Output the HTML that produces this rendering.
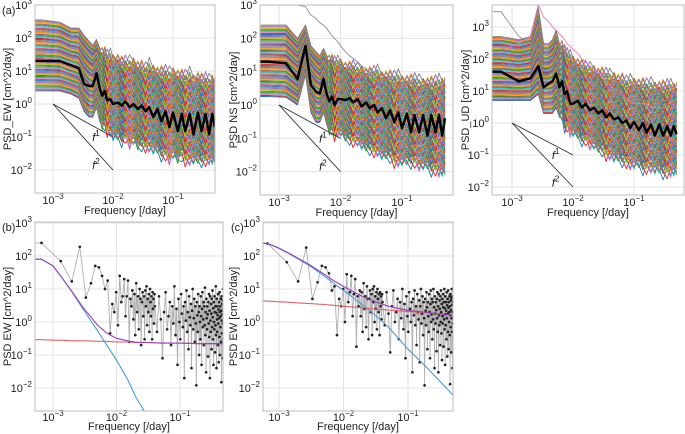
<!DOCTYPE html>
<html><head><meta charset="utf-8">
<style>
html,body{margin:0;padding:0;background:#fff;overflow:hidden;width:685px;height:434px;}
svg{display:block;font-family:"Liberation Sans","DejaVu Sans",sans-serif;overflow:hidden;}
</style></head>
<body>
<svg id="fig" width="685" height="434" viewBox="0 0 685 434" xmlns="http://www.w3.org/2000/svg"></svg>
<script>
// ---------- data ----------
const freqs = [6.6e-4,1.3e-3,2.0e-3,2.7e-3,3.3e-3,4.0e-3,4.6e-3,5.3e-3,6.0e-3,6.6e-3,7.3e-3,8.0e-3,9.0e-3,1.0e-2,1.2e-2,1.4e-2,1.6e-2,1.9e-2,2.2e-2,2.6e-2,3.0e-2,3.5e-2,4.0e-2,4.7e-2,5.5e-2,6.4e-2,7.5e-2,8.7e-2,0.10,0.12,0.14,0.16,0.19,0.22,0.26,0.30,0.35,0.40,0.45,0.50];
const ewMean = [20,20,15,12,4,3.5,3.5,8.5,3,1.8,2.5,1.3,1.4,1.0,1.1,0.9,1.2,0.8,1.0,0.7,0.9,0.6,0.8,0.4,0.7,0.3,0.6,0.2,0.55,0.15,0.5,0.15,0.5,0.12,0.55,0.15,0.5,0.12,0.5,0.2];
const ewHi = [350,300,200,200,120,80,60,90,50,40,40,30,30,25,25,20,20,18,20,15,15,12,15,12,10,10,10,8,10,8,8,7,8,6,7,6,6,5,6,5];
const ewLo = [2.5,2.5,2,1.5,0.6,0.4,0.4,0.8,0.3,0.2,0.25,0.15,0.15,0.1,0.1,0.08,0.1,0.06,0.08,0.05,0.06,0.05,0.05,0.04,0.04,0.03,0.03,0.02,0.03,0.02,0.03,0.02,0.02,0.02,0.02,0.02,0.02,0.02,0.02,0.02];
const nsMean = [20,18,6,60,4,2.5,2.2,6,2,1.3,1.8,1.0,1.5,1.5,1.4,1.6,1.2,1.5,0.9,1.2,0.8,1.0,0.6,0.8,0.4,0.7,0.3,0.6,0.2,0.55,0.15,0.5,0.15,0.5,0.12,0.5,0.15,0.5,0.12,0.4];
const nsHi = [250,250,100,250,60,40,30,50,30,25,25,20,20,20,15,15,15,12,12,10,10,10,10,8,8,8,7,7,6,6,6,6,5,5,5,5,5,5,5,5];
const nsLo = [1.8,1.7,1,8,0.6,0.3,0.3,0.6,0.25,0.15,0.2,0.12,0.15,0.15,0.1,0.1,0.08,0.08,0.06,0.05,0.05,0.04,0.04,0.03,0.03,0.03,0.02,0.02,0.02,0.02,0.02,0.02,0.015,0.015,0.015,0.012,0.012,0.01,0.01,0.01];
const nsOutlier = [3000,1500,1000,900,500,400,300,250,200,150,120,100,80,60,40,30,25,20,15,12,10,8,6,5,4,4,3,3,3,2,2,2,2,2,2,2,2,2,2,2];
const udMean = [40,20,25,60,13,17,20,35,13,20,8,10,4,4,5,3,4,2.5,3,2,2.5,1.5,2,1.3,1.5,1,1.2,0.7,1.1,0.6,1.0,0.5,0.9,0.4,0.9,0.4,0.8,0.4,0.8,0.45];
const udHi = [500,400,500,4000,300,300,400,800,300,300,200,150,120,100,80,70,60,50,50,40,40,35,30,30,25,25,20,20,20,18,18,16,16,15,15,15,15,14,14,14];
const udLo = [5,5,5,8,2,2,2,3,1.5,1.5,0.8,0.8,0.5,0.5,0.4,0.3,0.3,0.2,0.2,0.15,0.15,0.1,0.1,0.08,0.08,0.07,0.06,0.05,0.05,0.05,0.04,0.04,0.04,0.035,0.035,0.03,0.03,0.03,0.03,0.03];
const udOutlier = [3000,500,300,200,150,120,100,90,80,70,60,50,45,40,35,30,25,20,18,15,12,10,10,8,8,7,6,6,5,5,5,5,5,5,5,5,5,5,5,5];
const udPink = [200,300,500,5000,2000,1500,1000,800,600,500,400,300,250,200,150,100,80,60,50,40,30,20,15,12,10,8,6,5,4,4,4,4,3,3,3,3,3,3,3,3];

const modelFreqs = [5e-4,6.6e-4,1e-3,1.3e-3,2e-3,3e-3,5e-3,7e-3,1e-2,1.5e-2,2e-2,3e-2,5e-2,0.1,0.2,0.5];
const bBlue = [80,80,50,26,8,2.4,0.55,0.2,0.07,0.018,0.0055,0.0015,0.0003,0.00001,0.000001,0.0000001];
const bRed = [0.29,0.29,0.28,0.28,0.27,0.27,0.26,0.26,0.25,0.25,0.24,0.24,0.23,0.23,0.22,0.22];
const bPurple = [80,80,50,26,8.3,2.7,0.81,0.46,0.32,0.27,0.245,0.24,0.23,0.23,0.22,0.22];
const cBlue = [240,240,170,130,80,50,25,15,9,5,3.2,1.7,0.7,0.15,0.04,0.006];
const cRed = [4.4,4.3,4.1,4.0,3.8,3.6,3.4,3.2,3.0,2.8,2.7,2.5,2.3,2.1,1.9,1.6];
const cPurple = [244,244,174,134,84,54,28,18,12,7.8,5.9,4.2,3.0,2.25,1.94,1.6];

const bLow = [250,70,17,190,5.5,15,50,45,25,10,18,0.45,3.5,2,8,0.8,25,4,6,20,1.5,6,18,0.25,5,3,9,1.2,7,0.4,15,2,6,0.6,10,5,0.2,4,8,1.5,6,0.3,9,3,12,0.8,5,2,7,0.5,10,4,1.5,6,0.3,8,2.5,5,0.9,7];
const bTail = [3,0.5,6,1.2,0.08,2,8,0.6,1.5,4,0.2,3,0.9,12,0.4,2.5,0.05,5,1,0.3,7,1.8,0.7,3,0.02,4,1.1,9,0.5,2,0.15,6,1.4,0.8,3.5,0.04,2.2,10,0.6,1.3,5,0.25,3,0.9,0.012,4,1.6,0.5,7,2,0.1,3,1,0.3,6,1.5,0.05,2.5,8,0.7,1.2,4,0.2,3,0.8,11,0.4,2,0.03,5,1.3,0.6,3,1.7,0.09,4,0.9,7,0.35,2.2,0.02,6,1.1,0.5,3.5,1.8,0.15,5,0.7,9,1.4,0.3,2.6,0.05,4,1,0.6,6,2,0.12,3,0.8,12,0.4,1.9,0.04,5,1.2,0.5,3,1.6,0.2,7,0.9,2.4,0.06,4,1.3,0.35,8,2,0.1,3,0.7,1.5,5,0.25,2.2,0.015,6,1.1,0.45,3.5,1.7,0.08,4.5,0.9,10,0.3,2.5,0.03,5,1.4,0.6,3];
const cLow = [240,65,17,180,5,16,50,45,30,9,12,0.4,5,3,10,1,28,4,8,25,1.5,7,20,0.18,6,3,9,1.5,8,0.5,15,2.5,6,0.7,12,5,0.3,5,9,2,7,0.4,10,4,12,1,6,2.5,8,0.6,10,5,2,7,0.4,8,3,6,1.2,7];
const cTail = [4,0.8,8,1.8,0.12,3,9,1,2,5,0.3,4,1.3,10,0.6,3.5,0.08,6,1.5,0.5,8,2.5,1,4,0.03,5,1.6,9,0.8,3,0.2,7,2,1.2,4.5,0.06,3,10,0.9,1.8,6,0.4,4,1.3,0.012,5,2.2,0.8,8,2.8,0.15,4,1.5,0.5,7,2,0.08,3.5,9,1,1.7,5,0.3,4,1.2,10,0.6,2.8,0.04,6,1.8,0.9,4,2.3,0.13,5,1.3,8,0.5,3,0.03,7,1.6,0.8,4.5,2.5,0.2,6,1,9,2,0.45,3.5,0.07,5,1.5,0.9,7,2.8,0.18,4,1.2,10,0.6,2.6,0.05,6,1.7,0.8,4,2.2,0.3,8,1.3,3.2,0.09,5,1.8,0.5,9,2.7,0.15,4,1,2,6,0.4,3,0.013,7,1.6,0.7,4.5,2.3,0.12,5.5,1.3,10,0.5,3.3,0.04,6,2,0.9,4];

const xTicks = [-3,-2,-1];
const yTicks = [-2,-1,0,1,2,3];
const tab10 = ['#1f77b4','#ff7f0e','#2ca02c','#d62728','#9467bd','#8c564b','#e377c2','#7f7f7f','#bcbd22','#17becf'];

// ---------- helpers ----------
const NS = 'http://www.w3.org/2000/svg';
const svg = document.getElementById('fig');
function mk(tag, attrs, parent){
  const e = document.createElementNS(NS, tag);
  for (const k in attrs) e.setAttribute(k, attrs[k]);
  (parent||svg).appendChild(e);
  return e;
}
function clampY(y){ return Math.min(433, Math.max(1, y)); }
function makeAxes(p){
  p.X = f => p.x10 + p.xd*(Math.log10(f)+3);
  p.Y = v => p.y0 - p.yd*Math.log10(v);
  const g = mk('g', {});
  
  
  const cp = mk('clipPath', {id:'clip-'+p.name}, g);
  mk('rect', {x:p.l, y:p.t, width:p.r-p.l, height:p.b-p.t}, cp);
  xTicks.forEach(t=>{
    const x = p.x10 + p.xd*(t+3);
    const ln = mk('line', {x1:x, x2:x, y1:p.t, y2:p.b, stroke:'#e3e3e3', 'stroke-width':1}, g);
    
    
    const tx = mk('text', {x:x, y:p.b+p.tk, 'font-size':11, 'text-anchor':'middle', fill:'#222'}, g);
    
    
    tx.innerHTML = '10<tspan dy="-5" font-size="8">\u2212' + (-t) + '</tspan>';
  });
  yTicks.forEach(t=>{
    const y = p.y0 - p.yd*t;
    if (y < p.t-1 || y > p.b+1) return;
    const ln = mk('line', {x1:p.l, x2:p.r, y1:y, y2:y, stroke:'#e3e3e3', 'stroke-width':1}, g);
    
    
    const tx = mk('text', {x:p.l-3, y:y+4, 'font-size':11, 'text-anchor':'end', fill:'#222'}, g);
    
    
    const ex = t<0 ? '\u2212'+(-t) : ''+t;
    tx.innerHTML = '10<tspan dy="-5" font-size="8">' + ex + '</tspan>';
  });
  const data = mk('g', {'clip-path':'url(#clip-'+p.name+')'}, g);
  
  
  p.g = g; p.data = data;
  const xl = mk('text', {x:(p.l+p.r)/2, y:p.b+p.xlo, 'font-size':11, 'text-anchor':'middle', fill:'#222'}, g);
  
  
  xl.textContent = 'Frequency [/day]';
  const yl = mk('text', {x:0, y:0, 'font-size':11, 'text-anchor':'middle', fill:'#222', transform:'translate('+p.ylx+','+((p.t+p.b)/2)+') rotate(-90)'}, g);
  
  
  yl.textContent = p.ylabel;
  if (p.tag){
    const tg = mk('text', {x:p.tagx, y:p.t+9, 'font-size':11, fill:'#222'}, g);
    
    
    tg.textContent = p.tag;
  }
  return p;
}
function frame(p){
  const fr = mk('rect', {x:p.l, y:p.t, width:p.r-p.l, height:p.b-p.t, fill:'none', stroke:'#bdbdbd', 'stroke-width':1}, p.g);
  
  
}
function pathFrom(p, fs, vs, leftExtend){
  let d = leftExtend ? 'M' + (p.l-2) + ',' + clampY(p.Y(vs[0])).toFixed(1) + ' L' : 'M';
  d += fs.map((f,i)=>p.X(f).toFixed(1)+','+clampY(p.Y(Math.max(vs[i],1e-9))).toFixed(1)).join(' L');
  return d;
}
function spaghetti(p, mean, hi, lo, extras){
  const n = 70;
  for (let j=0;j<n;j++){
    const t = j/(n-1);
    const vals = hi.map((h,i)=>{
      const lh = Math.log10(h), ll = Math.log10(lo[i]);
      const k = (j*7 + i*13) % 5 - 2;
      const wig = (i>8) ? k*0.12*(lh-ll)/2.5 : 0;
      return Math.pow(10, ll + t*(lh-ll) + wig);
    });
    const pth = mk('path', {d:pathFrom(p, freqs, vals, true), fill:'none', stroke:tab10[(j*3)%10], 'stroke-width':0.9, 'stroke-linejoin':'round'}, p.data);
    
    
  }
  (extras||[]).forEach(ex=>{
    const pth = mk('path', {d:pathFrom(p, freqs, ex.v, true), fill:'none', stroke:ex.c, 'stroke-width':0.9}, p.data);
    
    
  });
  const m = mk('path', {d:pathFrom(p, freqs, mean, true), fill:'none', stroke:'#000', 'stroke-width':2.4, 'stroke-linejoin':'round'}, p.data);
  
  
  const x1 = p.X(1e-3), y1 = p.Y(1), x2 = p.X(1e-2);
  const s1 = mk('line', {x1:x1, y1:y1, x2:x2, y2:p.Y(0.1), stroke:'#333', 'stroke-width':0.9}, p.g);
  
  
  const s2 = mk('line', {x1:x1, y1:y1, x2:x2, y2:p.Y(0.01), stroke:'#333', 'stroke-width':0.9}, p.g);
  
  
  const t1 = mk('text', {x:p.X(4.5e-3), y:p.Y(0.1)+4, 'font-size':11, 'font-style':'italic', fill:'#111'}, p.g);
  
  
  t1.innerHTML = 'f<tspan dy="-5" font-size="8" font-style="normal">1</tspan>';
  const t2 = mk('text', {x:p.X(4.5e-3), y:p.Y(0.014)+4, 'font-size':11, 'font-style':'italic', fill:'#111'}, p.g);
  
  
  t2.innerHTML = 'f<tspan dy="-5" font-size="8" font-style="normal">2</tspan>';
}
function fitPanel(p, low, tail, blue, red, purple){
  const fs = [], vs = [];
  low.forEach((v,i)=>{ fs.push((i+1)*6.6e-4); vs.push(v); });
  const f0 = (low.length+1)*6.6e-4;
  tail.forEach((v,i)=>{ fs.push(f0 + (0.5-f0)*i/(tail.length-1)); vs.push(v); });
  const gl = mk('path', {d:pathFrom(p, fs, vs, true), fill:'none', stroke:'#b0b0b0', 'stroke-width':0.9}, p.data);
  
  
  fs.forEach((f,i)=>{
    const c = mk('circle', {cx:p.X(f).toFixed(1), cy:clampY(p.Y(vs[i])).toFixed(1), r:1.35, fill:'#222'}, p.data);
    
    
  });
  [[blue,'#4a9bd4','power-law-model'],[red,'#e0606a','white-noise-model'],[purple,'#9b3fb5','combined-model']].forEach(([arr,col,nm])=>{
    const pth = mk('path', {d:pathFrom(p, modelFreqs, arr, false), fill:'none', stroke:col, 'stroke-width':1.1}, p.data);
    
    
  });
}

// ---------- panels ----------
const pA = makeAxes({name:'panel-a-ew', l:35, r:215, t:5, b:193, x10:53, xd:60, y0:104, yd:33, tk:11, xlo:21, ylabel:'PSD_EW [cm^2/day]', ylx:11, tag:'(a)', tagx:2});
spaghetti(pA, ewMean, ewHi, ewLo, []);
frame(pA);
const pN = makeAxes({name:'panel-a-ns', l:260, r:453, t:5, b:195, x10:279, xd:61.5, y0:105, yd:33.3, tk:11, xlo:21, ylabel:'PSD NS [cm^2/day]', ylx:237});
spaghetti(pN, nsMean, nsHi, nsLo, [{v:nsOutlier, c:'#8c8c8c'}]);
frame(pN);
const pU = makeAxes({name:'panel-a-ud', l:492, r:684, t:5, b:195, x10:512, xd:61, y0:123, yd:32, tk:11, xlo:21, ylabel:'PSD_UD [cm^2/day]', ylx:469});
spaghetti(pU, udMean, udHi, udLo, [{v:udOutlier, c:'#8c8c8c'},{v:udPink, c:'#e377c2'}]);
frame(pU);
const pB = makeAxes({name:'panel-b', l:35, r:223, t:222, b:411, x10:53, xd:63.5, y0:322, yd:33, tk:10, xlo:19, ylabel:'PSD EW [cm^2/day]', ylx:11, tag:'(b)', tagx:2});
fitPanel(pB, bLow, bTail, bBlue, bRed, bPurple);
frame(pB);
const pC = makeAxes({name:'panel-c', l:263, r:453, t:222, b:411, x10:279, xd:64.5, y0:322, yd:33, tk:10, xlo:19, ylabel:'PSD EW [cm^2/day]', ylx:237, tag:'(c)', tagx:231});
fitPanel(pC, cLow, cTail, cBlue, cRed, cPurple);
frame(pC);
</script>
</body></html>
